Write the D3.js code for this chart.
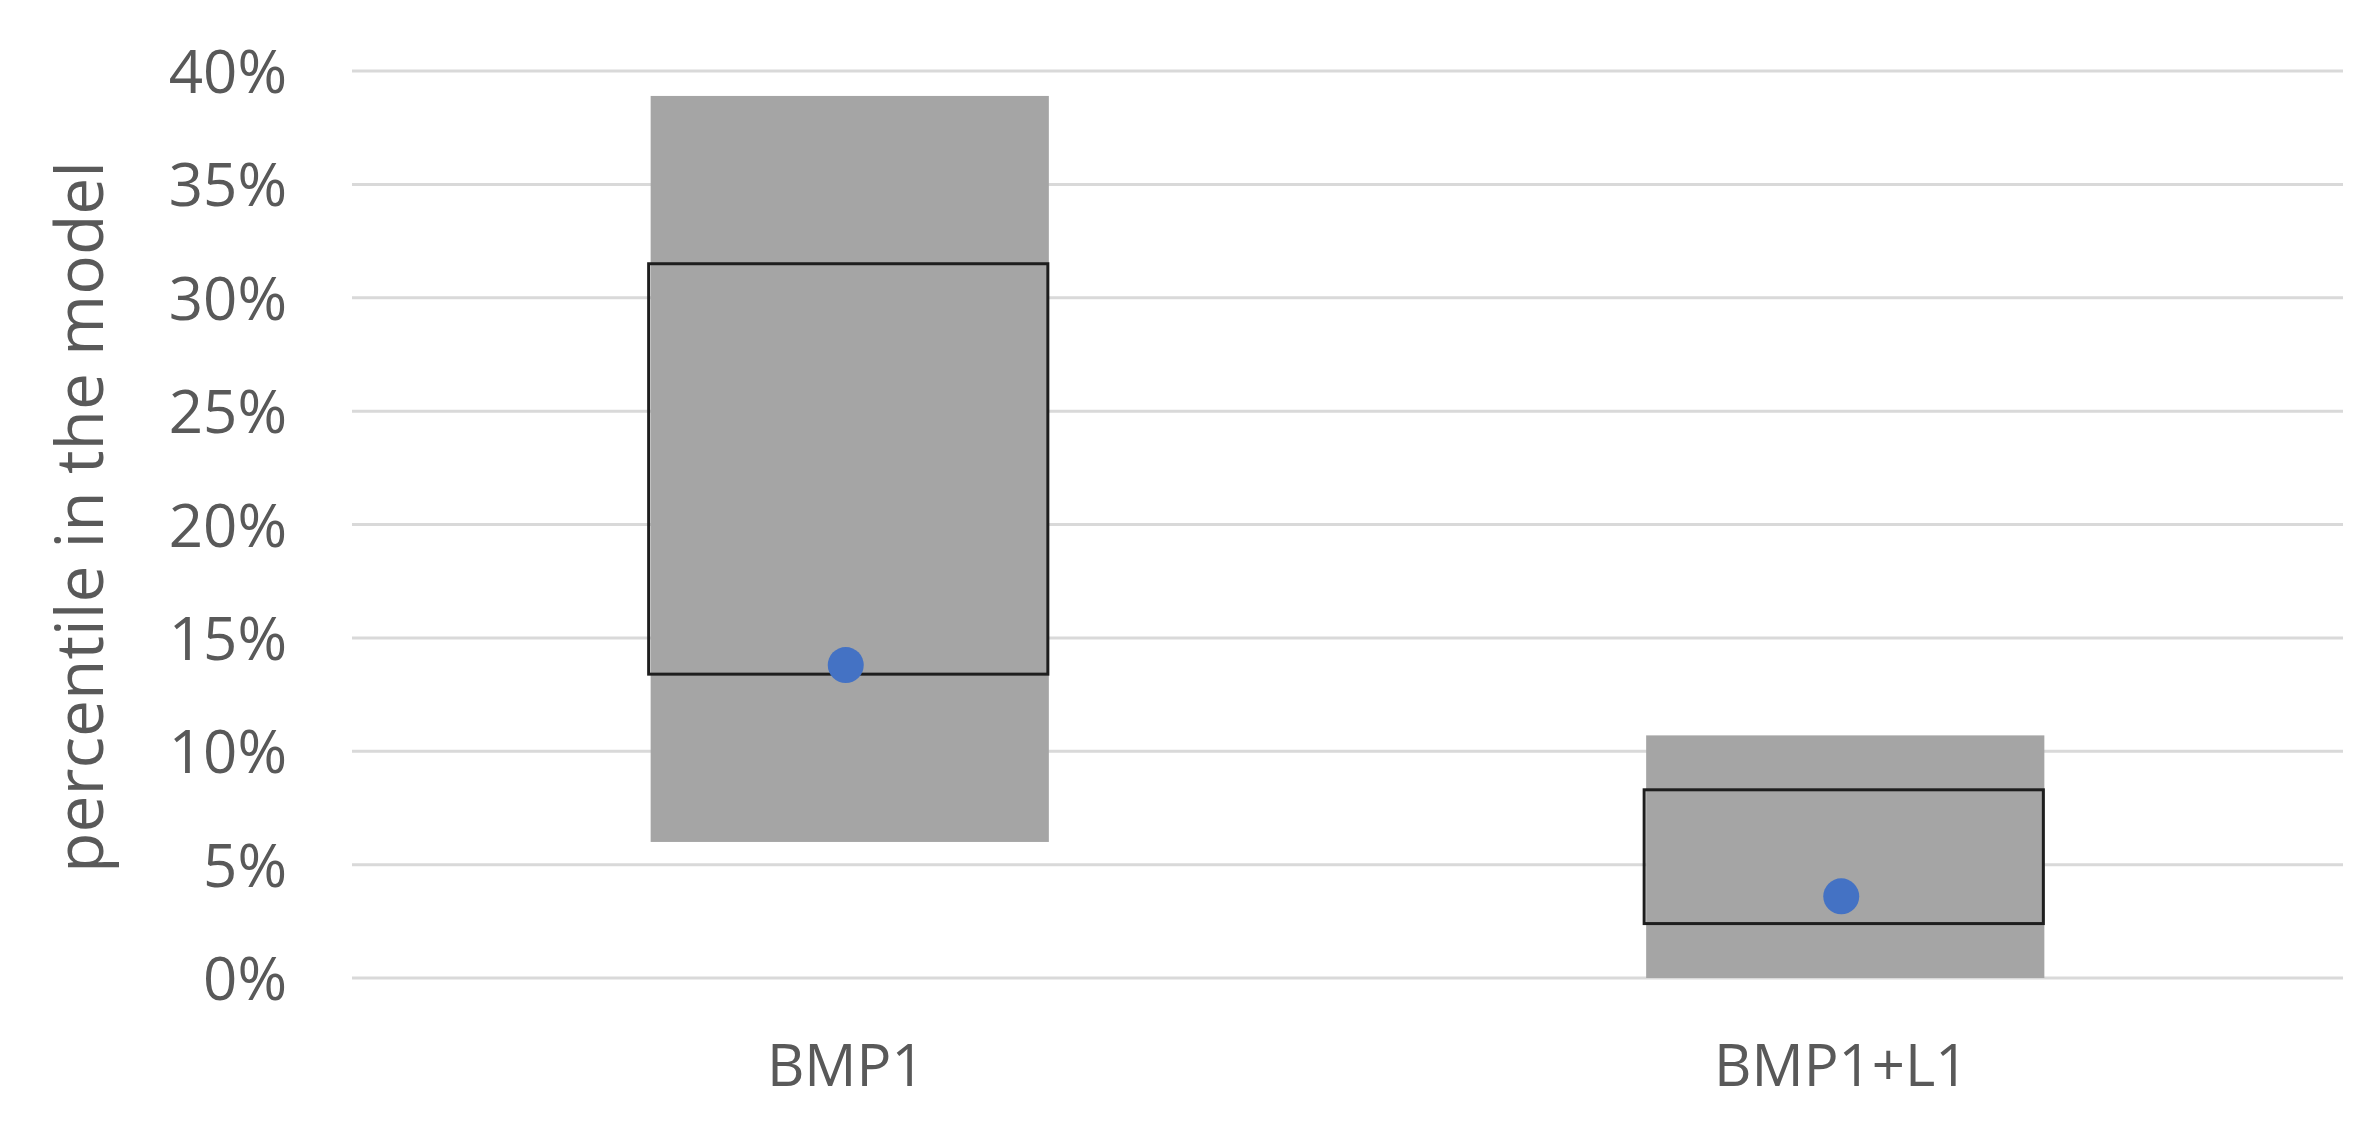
<!DOCTYPE html>
<html>
<head>
<meta charset="utf-8">
<title>Percentile chart</title>
<script src="https://d3js.org/d3.v7.min.js"></script>
<style>
    body { margin: 0; background: #ffffff; }
    #chart { width: 2376px; height: 1122px; }
</style>
</head>
<body>
<div id="chart"></div>
<script>
// Data
const categories = ['BMP1', 'BMP1+L1'];
const rangeLow = [0.060, 0.000];
const rangeHigh = [0.389, 0.107];
const boxLow = [0.134, 0.024];
const boxHigh = [0.315, 0.083];
const pointValues = [0.138, 0.036];
const yTicks = [0, 0.05, 0.10, 0.15, 0.20, 0.25, 0.30, 0.35, 0.40];
const yTitle = 'percentile in the model';

const width = 2376;
const height = 1122;
const plot = { left: 352, right: 2343, top: 71, bottom: 978 };
const textColor = '#595959';
const font = '"Open Sans", "Noto Sans", sans-serif';

const svg = d3.select('#chart')
    .append('svg')
    .attr('width', width)
    .attr('height', height)
    .style('background-color', '#ffffff');

const x = d3.scaleBand()
    .domain(categories)
    .range([plot.left, plot.right]);

const y = d3.scaleLinear()
    .domain([0, 0.4])
    .range([plot.bottom, plot.top]);

const barW = x.bandwidth() * 0.4;
const rows = categories.map((c, i) => ({
    cat: c,
    lo: rangeLow[i], hi: rangeHigh[i],
    bLo: boxLow[i], bHi: boxHigh[i],
    pt: pointValues[i]
}));

// Gridlines
svg.append('g')
    .selectAll('line')
    .data(yTicks)
    .enter()
    .append('line')
    .attr('x1', plot.left)
    .attr('x2', plot.right)
    .attr('y1', d => y(d))
    .attr('y2', d => y(d))
    .attr('stroke', '#d9d9d9')
    .attr('stroke-width', 3);

// Y axis labels
const yAxis = svg.append('g')
    .attr('transform', `translate(${plot.left - 65},0)`)
    .call(d3.axisLeft(y).tickValues(yTicks).tickFormat(d3.format('.0%')).tickSize(0).tickPadding(0));
yAxis.select('.domain').remove();
yAxis.selectAll('text')
    .attr('fill', textColor)
    .style('font-family', font)
    .style('font-size', '60px')
    .attr('dy', '0.36em');

// Outer range bars
svg.append('g')
    .selectAll('rect')
    .data(rows)
    .enter()
    .append('rect')
    .attr('x', d => x(d.cat) + (x.bandwidth() - barW) / 2)
    .attr('width', barW)
    .attr('y', d => y(d.hi))
    .attr('height', d => y(d.lo) - y(d.hi))
    .attr('fill', '#a5a5a5');

// Inner boxes
svg.append('g')
    .selectAll('rect')
    .data(rows)
    .enter()
    .append('rect')
    .attr('x', d => x(d.cat) + (x.bandwidth() - barW) / 2 - 2)
    .attr('width', barW + 1)
    .attr('y', d => y(d.bHi))
    .attr('height', d => y(d.bLo) - y(d.bHi))
    .attr('fill', 'none')
    .attr('stroke', '#1e1e1e')
    .attr('stroke-width', 3);

// Points
svg.append('g')
    .selectAll('circle')
    .data(rows)
    .enter()
    .append('circle')
    .attr('cx', d => x(d.cat) + x.bandwidth() / 2 - 4)
    .attr('cy', d => y(d.pt))
    .attr('r', 18)
    .attr('fill', '#4472c4');

// Category labels
svg.append('g')
    .selectAll('text')
    .data(categories)
    .enter()
    .append('text')
    .attr('x', d => x(d) + x.bandwidth() / 2 - 4)
    .attr('y', 1086)
    .attr('text-anchor', 'middle')
    .attr('fill', textColor)
    .style('font-family', font)
    .style('font-size', '58px')
    .text(d => d);

// Y title
svg.append('text')
    .attr('transform', 'translate(103,517) rotate(-90)')
    .attr('text-anchor', 'middle')
    .attr('fill', textColor)
    .style('font-family', font)
    .style('font-size', '66px')
    .text(yTitle);
</script>
</body>
</html>
